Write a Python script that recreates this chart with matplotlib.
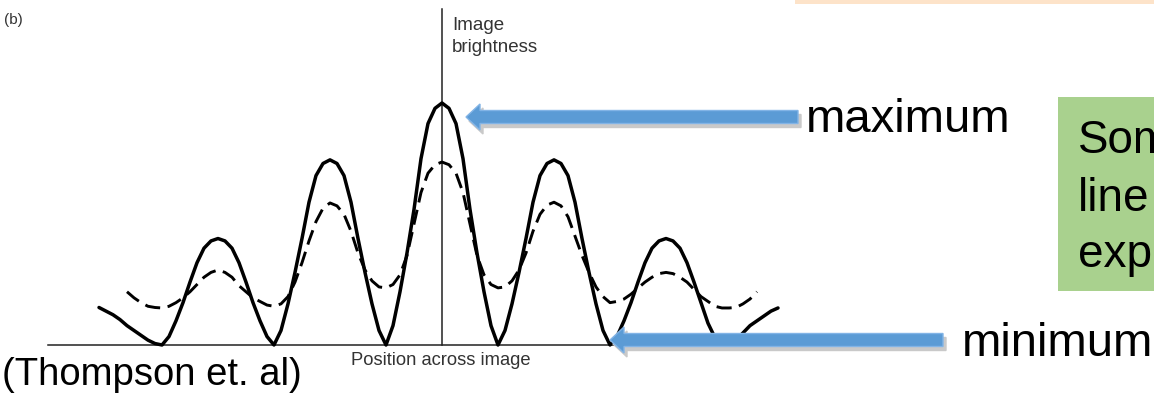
import numpy as np
import matplotlib
matplotlib.use("Agg")
import matplotlib.pyplot as plt
from matplotlib.patches import FancyArrow, Rectangle

plt.rcParams["font.family"] = ["Liberation Sans", "DejaVu Sans"]

# positions across the image, in units of half a fringe spacing
positions = np.arange(-49, 49) / 8.0
positions_dashed = np.arange(-45, 46) / 8.0

# solid curve (image brightness)
solid_brightness = [
    0.155, 0.14, 0.125, 0.105, 0.08, 0.06, 0.04, 0.02, 0.006, 0.0,
    0.035, 0.10, 0.175, 0.26, 0.34, 0.40, 0.43, 0.44,
    0.43, 0.40, 0.34, 0.26, 0.175, 0.10, 0.035, 0.0,
    0.06, 0.17, 0.30, 0.44, 0.59, 0.70, 0.75, 0.765,
    0.75, 0.70, 0.59, 0.44, 0.30, 0.17, 0.06, 0.0,
    0.08, 0.22, 0.38, 0.56, 0.77, 0.915, 0.978, 1.0,
    0.978, 0.915, 0.77, 0.56, 0.38, 0.22, 0.08, 0.0,
    0.06, 0.17, 0.30, 0.44, 0.59, 0.70, 0.75, 0.765,
    0.75, 0.70, 0.59, 0.44, 0.30, 0.17, 0.06, 0.0,
    0.035, 0.10, 0.175, 0.26, 0.34, 0.40, 0.43, 0.44,
    0.43, 0.40, 0.34, 0.26, 0.175, 0.09, 0.03, 0.0,
    0.005, 0.02, 0.05, 0.08, 0.10, 0.12, 0.14, 0.153,
]

# dashed curve
dashed_brightness = [
    0.22, 0.195, 0.175, 0.16, 0.155, 0.153,
    0.16, 0.175, 0.195, 0.22, 0.25, 0.28, 0.30, 0.31,
    0.30, 0.28, 0.245, 0.22, 0.195, 0.18, 0.165, 0.16,
    0.17, 0.20, 0.26, 0.34, 0.43, 0.51, 0.565, 0.587,
    0.575, 0.54, 0.47, 0.38, 0.31, 0.265, 0.24, 0.236,
    0.25, 0.29, 0.37, 0.50, 0.63, 0.71, 0.745, 0.756,
    0.745, 0.71, 0.63, 0.50, 0.37, 0.29, 0.25, 0.236,
    0.24, 0.265, 0.31, 0.38, 0.47, 0.54, 0.578, 0.59,
    0.575, 0.53, 0.45, 0.37, 0.30, 0.24, 0.20, 0.175,
    0.18, 0.19, 0.21, 0.235, 0.26, 0.28, 0.295, 0.30,
    0.295, 0.28, 0.26, 0.23, 0.20, 0.18, 0.16, 0.153,
    0.153, 0.155, 0.17, 0.19, 0.22,
]

box_lines = ["Some", "line", "exp"]

W, H = 1154, 394


def fx(px):
    return px / W


def fy(py):
    return 1 - py / H


fig = plt.figure(figsize=(W / 100, H / 100), dpi=100)
fig.patch.set_facecolor("white")

# axes filling the figure; origin at the crossing of the two axis lines
ax = fig.add_axes([0, 0, 1, 1])
ux, uy = 56.0, 242.0  # pixels per unit
x0, y0 = 442.0, 345.0
ax.set_xlim(-x0 / ux, (W - x0) / ux)
ax.set_ylim((y0 - H) / uy, y0 / uy)
ax.axis("off")

# axis lines
ax.plot([(48 - x0) / ux, (780 - x0) / ux], [0, 0], color="#222222", lw=1.1, zorder=2)
ax.plot([0, 0], [0, (y0 - 9) / uy], color="#222222", lw=1.1, zorder=2)

ax.plot(positions, solid_brightness, color="black", lw=2.5,
        solid_capstyle="round", solid_joinstyle="round", zorder=3)
ax.plot(positions_dashed, dashed_brightness, color="black", lw=2.1,
        dashes=(5.2, 2.6), zorder=3)

# labels of the original figure
fig.text(fx(4), fy(24), "(b)", fontsize=11, color="#333333", va="baseline")
fig.text(fx(452), fy(30), "Image", fontsize=13.5, color="#333333", va="baseline")
fig.text(fx(452), fy(52), "brightness", fontsize=13.5, color="#333333", va="baseline")
fig.text(fx(441), fy(365), "Position across image", fontsize=13.2, color="#333333",
         ha="center", va="baseline")
fig.text(fx(2), fy(385), "(Thompson et. al)", fontsize=27.5, color="black", va="baseline")


def draw_arrow(tail_x, tip_x, y):
    for off, fc, ec, z in [((3, 4), "#c9c9c9", "#c9c9c9", 4), ((0, 0), "#5b9bd5", "#82b4e6", 5)]:
        a = FancyArrow(fx(tail_x + off[0]), fy(y + off[1]), fx(tip_x) - fx(tail_x), 0,
                       width=13 / H, head_width=26 / H, head_length=14 / W,
                       length_includes_head=True, transform=fig.transFigure,
                       facecolor=fc, edgecolor=ec, lw=1.0, zorder=z)
        fig.add_artist(a)


draw_arrow(798, 466, 117)
draw_arrow(943, 610, 340)

fig.text(fx(806), fy(132), "maximum", fontsize=34, color="black", va="baseline")
fig.text(fx(962), fy(356), "minimum", fontsize=34, color="black", va="baseline")

# boxes cut at the right edge
fig.add_artist(Rectangle((fx(795), fy(4)), 1 - fx(795), 4 / H,
                         transform=fig.transFigure, facecolor="#fde3c9", edgecolor="none"))
fig.add_artist(Rectangle((fx(1058), fy(291)), 1 - fx(1058), 194 / H,
                         transform=fig.transFigure, facecolor="#a9d18e", edgecolor="none"))
for line, base in zip(box_lines, [153, 211, 267]):
    fig.text(fx(1078), fy(base), line, fontsize=33, color="black", va="baseline")

fig.savefig("out.png", dpi=100)
